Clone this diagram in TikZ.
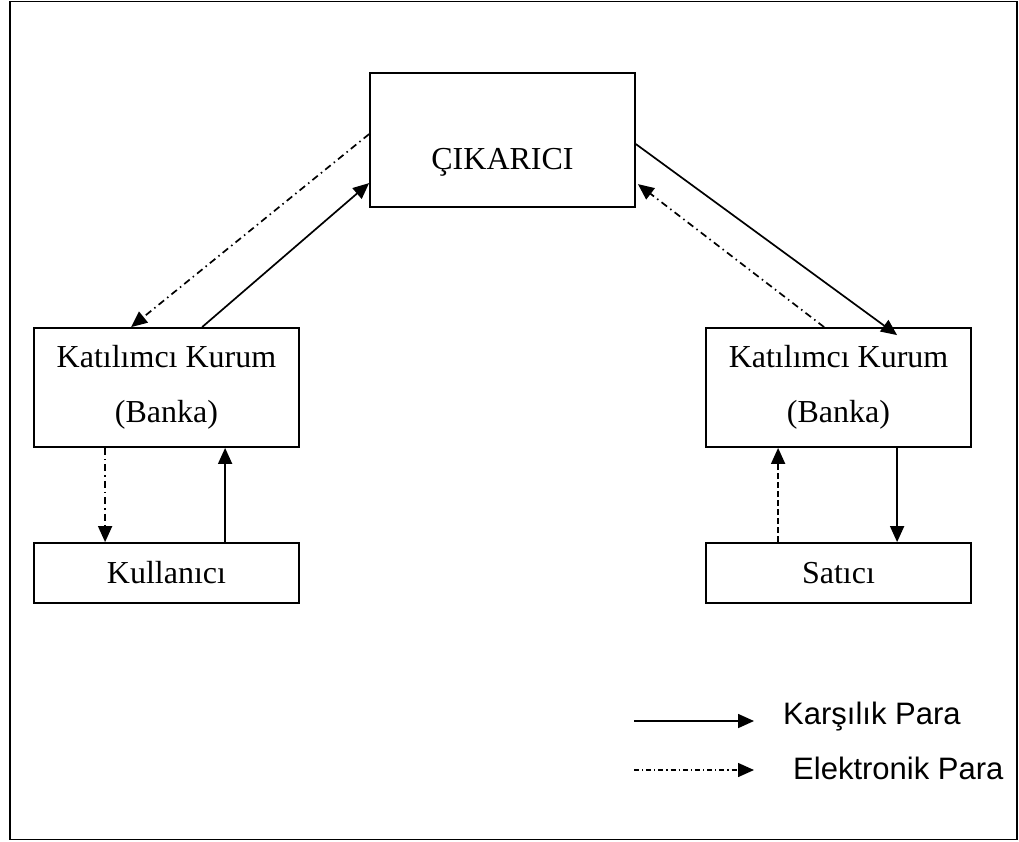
\documentclass[tikz,border=0pt]{standalone}
\usepackage{fontspec}
\setmainfont{Liberation Serif}
\newfontfamily\arialfont{Liberation Sans}
\usetikzlibrary{arrows.meta,calc}
\begin{document}
\begin{tikzpicture}[x=1pt,y=-1pt,
  box/.style={draw,line width=1.8pt,rectangle,inner sep=0pt,minimum width=265pt,
    font=\fontsize{32}{55}\selectfont,align=center},
  conn/.style={line width=1.7pt,-{Triangle[length=16pt,width=14pt]}},
  dd/.style={conn,dash pattern=on 7pt off 4pt on 1.5pt off 4pt},
  dsh/.style={conn,dash pattern=on 6pt off 3pt},
  legtext/.style={anchor=base west,inner sep=0pt,font=\arialfont\fontsize{31}{36}\selectfont}]
\useasboundingbox (0,0) rectangle (1019,841);
\draw[line width=1.8pt] (10,1.5) rectangle (1017,839.5);
\node[box,minimum height=134pt,text height=60pt,text depth=2pt] (cik) at (502.5,140) {ÇIKARICI};
\node[box,minimum height=119pt] (lk) at (166.5,387.5) {Katılımcı Kurum\\(Banka)};
\node[box,minimum height=60pt,text height=22pt,text depth=2pt] (ku) at (166.5,573) {Kullanıcı};
\node[box,minimum height=119pt] (rk) at (838.5,387.5) {Katılımcı Kurum\\(Banka)};
\node[box,minimum height=60pt,text height=22pt,text depth=2pt] (sa) at (838.5,573) {Satıcı};
% left diagonals
\draw[dd] ($(cik.north west)+(0,62)$) -- ($(lk.north west)+(98,0)$);
\draw[conn] ($(lk.north west)+(169,0)$) -- ($(cik.north west)+(0,111)$);
% right diagonals
\draw[conn] ($(cik.north east)+(0,72)$) -- ($(rk.north west)+(192,8)$);
\draw[dd] ($(rk.north west)+(119,0)$) -- ($(cik.north east)+(2,112)$);
% left verticals
\draw[dd] ($(lk.south west)+(72,0)$) -- ($(ku.north west)+(72,0)$);
\draw[conn] ($(ku.north west)+(192,0)$) -- ($(lk.south west)+(192,0)$);
% right verticals
\draw[dsh] ($(sa.north west)+(73,0)$) -- ($(rk.south west)+(73,0)$);
\draw[conn] ($(rk.south west)+(192,0)$) -- ($(sa.north west)+(192,0)$);
% legend
\coordinate (l1a) at (634,721);
\coordinate (l1b) at (754,721);
\coordinate (l2a) at (634,770);
\coordinate (l2b) at (754,770);
\draw[conn] (l1a) -- (l1b);
\draw[conn,line width=1.4pt,dash pattern=on 5pt off 3pt on 1.2pt off 3pt] (l2a) -- (l2b);
\node[legtext] (t1) at (783,724) {Karşılık Para};
\node[legtext] (t2) at (793,779) {Elektronik Para};
\end{tikzpicture}
\end{document}
